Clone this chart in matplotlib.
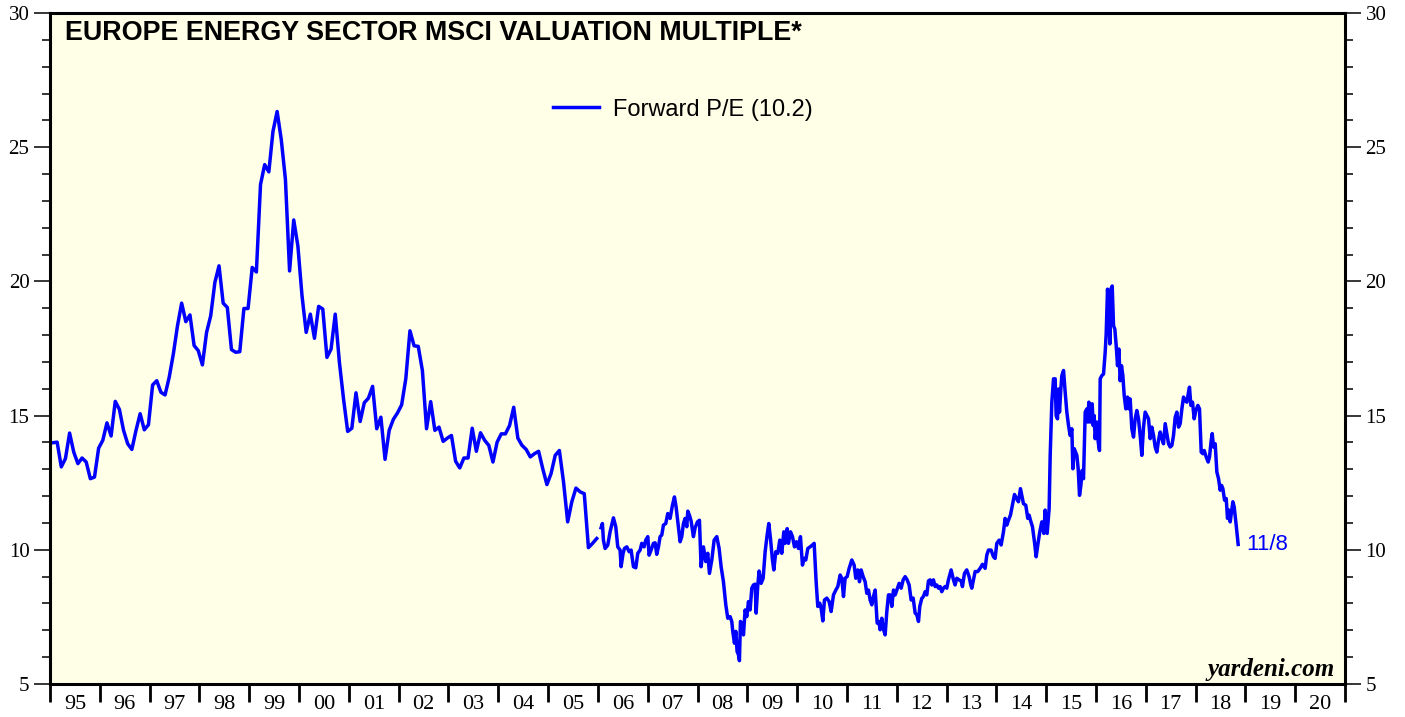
import numpy as np
import matplotlib
matplotlib.use('Agg')
import matplotlib.pyplot as plt

# monthly forward P/E, Jan 1995 .. Dec 2005
monthly_start = 1995.06
monthly_pe = [
    13.99, 14.01, 13.09, 13.40, 14.35, 13.64, 13.21, 13.42, 13.27, 12.65, 12.71, 13.79,
    14.08, 14.73, 14.24, 15.53, 15.23, 14.45, 13.95, 13.74, 14.45, 15.07, 14.47, 14.66,
    16.14, 16.30, 15.87, 15.77, 16.43, 17.30, 18.35, 19.19, 18.50, 18.75, 17.61, 17.42,
    16.89, 18.10, 18.72, 19.96, 20.58, 19.19, 19.03, 17.46, 17.36, 17.38, 18.99, 18.99,
    20.52, 20.35, 23.61, 24.35, 24.08, 25.59, 26.33, 25.28, 23.80, 20.39, 22.29, 21.32,
    19.46, 18.10, 18.78, 17.88, 19.07, 18.97, 17.17, 17.48, 18.78, 16.99, 15.62, 14.41,
    14.53, 15.85, 14.78, 15.48, 15.65, 16.09, 14.51, 14.94, 13.37, 14.45, 14.86, 15.10,
    15.40, 16.37, 18.16, 17.60, 17.58, 16.68, 14.51, 15.52, 14.45, 14.57, 14.04, 14.16,
    14.26, 13.30, 13.05, 13.42, 13.42, 14.53, 13.67, 14.36, 14.08, 13.89, 13.27, 14.01,
    14.32, 14.32, 14.63, 15.31, 14.16, 13.89, 13.74, 13.46, 13.58, 13.67, 13.02, 12.43,
    12.84, 13.52, 13.70, 12.53, 11.04, 11.79, 12.30, 12.16, 12.09, 10.08, 10.24, 10.42,
]

# weekly series from 2006 (decimal years)
weekly_t = [
    2006.064, 2006.091, 2006.111, 2006.145, 2006.198, 2006.245, 2006.312, 2006.359, 2006.399, 2006.446,
    2006.466, 2006.506, 2006.533, 2006.580, 2006.627, 2006.667, 2006.714, 2006.761, 2006.801, 2006.848,
    2006.881, 2006.928, 2006.961, 2007.002, 2007.028, 2007.068, 2007.115, 2007.149, 2007.182, 2007.216,
    2007.249, 2007.283, 2007.316, 2007.363, 2007.403, 2007.450, 2007.497, 2007.537, 2007.570, 2007.604,
    2007.651, 2007.684, 2007.718, 2007.751, 2007.785, 2007.805, 2007.838, 2007.872, 2007.918, 2007.952,
    2007.999, 2008.039, 2008.072, 2008.119, 2008.166, 2008.206, 2008.240, 2008.287, 2008.334, 2008.387,
    2008.434, 2008.474, 2008.521, 2008.568, 2008.608, 2008.655, 2008.688, 2008.708, 2008.742, 2008.769,
    2008.795, 2008.822, 2008.842, 2008.862, 2008.889, 2008.923, 2008.956, 2008.990, 2009.023, 2009.056,
    2009.090, 2009.123, 2009.157,
    2009.177, 2009.211, 2009.237, 2009.277, 2009.318, 2009.358, 2009.398, 2009.431, 2009.465, 2009.505,
    2009.532, 2009.572, 2009.612, 2009.652, 2009.692, 2009.733, 2009.759, 2009.800, 2009.826, 2009.867,
    2009.907, 2009.947, 2009.987, 2010.027, 2010.067, 2010.107, 2010.141, 2010.174, 2010.215, 2010.261,
    2010.308, 2010.342, 2010.382, 2010.415, 2010.455, 2010.482, 2010.516, 2010.549, 2010.596, 2010.643,
    2010.683, 2010.730, 2010.777, 2010.817, 2010.864, 2010.897, 2010.931, 2010.964, 2011.004, 2011.045,
    2011.098, 2011.145, 2011.178, 2011.219, 2011.252, 2011.285, 2011.326, 2011.366, 2011.399, 2011.433,
    2011.466, 2011.500, 2011.533, 2011.567, 2011.607, 2011.640, 2011.667, 2011.700, 2011.727, 2011.767,
    2011.801, 2011.834, 2011.868, 2011.901, 2011.935, 2011.968, 2012.001, 2012.049, 2012.089, 2012.129,
    2012.169, 2012.209, 2012.249, 2012.289, 2012.330, 2012.370, 2012.403, 2012.437, 2012.463,
    2012.503, 2012.536, 2012.570, 2012.603, 2012.637, 2012.670, 2012.704, 2012.737, 2012.771, 2012.804,
    2012.838, 2012.871, 2012.904, 2012.938, 2012.971, 2013.005, 2013.038, 2013.092, 2013.139, 2013.172,
    2013.206, 2013.253, 2013.293, 2013.319, 2013.360, 2013.406, 2013.453, 2013.487, 2013.507, 2013.540,
    2013.574, 2013.627, 2013.674, 2013.721, 2013.775, 2013.808, 2013.842, 2013.895, 2013.942, 2013.975,
    2014.009, 2014.056, 2014.096, 2014.143, 2014.176, 2014.210, 2014.243, 2014.283, 2014.323, 2014.364,
    2014.404, 2014.444, 2014.484, 2014.511, 2014.544, 2014.591, 2014.631, 2014.658, 2014.685, 2014.725,
    2014.765, 2014.799, 2014.832, 2014.872, 2014.913, 2014.953, 2014.980, 2015.020, 2015.060,
    2015.081, 2015.114, 2015.148, 2015.181, 2015.201, 2015.228, 2015.248, 2015.268, 2015.295, 2015.315,
    2015.349, 2015.382, 2015.415, 2015.449, 2015.482, 2015.516, 2015.536, 2015.563, 2015.590, 2015.616,
    2015.643, 2015.670, 2015.697, 2015.723, 2015.750, 2015.784, 2015.817, 2015.837, 2015.857, 2015.884,
    2015.904, 2015.924, 2015.944, 2015.964, 2015.984, 2016.018, 2016.045, 2016.071, 2016.085, 2016.118,
    2016.152, 2016.185, 2016.205, 2016.232, 2016.259, 2016.279, 2016.299, 2016.326, 2016.353, 2016.379,
    2016.406, 2016.433, 2016.460, 2016.486, 2016.513, 2016.540, 2016.567, 2016.600, 2016.634, 2016.660,
    2016.687, 2016.720, 2016.754, 2016.787, 2016.821, 2016.854, 2016.888, 2016.921, 2016.955, 2016.988,
    2017.022, 2017.055, 2017.089, 2017.122, 2017.156, 2017.189, 2017.222, 2017.256, 2017.289, 2017.323,
    2017.356, 2017.390, 2017.423, 2017.457, 2017.490, 2017.524, 2017.557, 2017.591, 2017.624, 2017.658,
    2017.691, 2017.725, 2017.758, 2017.791, 2017.825, 2017.858, 2017.878, 2017.905, 2017.939, 2017.972,
    2018.006, 2018.046, 2018.079, 2018.113, 2018.146, 2018.173, 2018.213, 2018.253, 2018.280, 2018.314,
    2018.334, 2018.360, 2018.394, 2018.427, 2018.461, 2018.494, 2018.521, 2018.548, 2018.581, 2018.615,
    2018.641, 2018.668, 2018.695, 2018.722, 2018.749, 2018.775, 2018.815, 2018.855,
]
weekly_pe = [
    10.82, 10.98, 10.36, 10.05, 10.17, 10.67, 11.19, 10.86, 10.11, 9.99,
    9.37, 9.87, 10.05, 10.11, 9.93, 9.99, 9.37, 9.33, 9.87, 9.99,
    10.24, 10.11, 10.36, 10.49, 9.80, 9.99, 10.24, 10.26, 9.83, 10.11,
    10.49, 10.55, 10.92, 10.98, 11.35, 11.17, 11.66, 11.97, 11.60, 11.04,
    10.30, 10.49, 10.98, 11.17, 10.86, 11.44, 11.29, 11.07, 10.49, 10.82,
    11.04, 11.10, 9.37, 10.11, 9.56, 9.87, 9.12, 9.62, 10.36, 10.49,
    10.05, 9.37, 8.81, 7.95, 7.45, 7.51, 7.33, 6.96, 6.52, 6.96,
    6.21, 6.09, 5.87, 7.33, 7.27, 6.83, 7.76, 7.51, 8.07, 7.76,
    8.57, 8.69, 8.72,
    7.64, 8.69, 9.21, 8.75, 8.94, 9.93, 10.55, 10.98, 10.42, 9.62,
    9.25, 9.93, 9.87, 10.36, 9.87, 10.67, 10.24, 10.79, 10.24, 10.67,
    10.49, 10.11, 10.30, 10.05, 10.49, 9.43, 9.68, 9.62, 10.05, 10.11,
    10.18, 10.24, 8.81, 7.89, 8.01, 7.82, 7.35, 8.13, 8.20, 8.07,
    7.70, 8.32, 8.50, 8.63, 9.06, 8.94, 8.26, 8.94, 9.00, 9.31,
    9.62, 9.43, 8.94, 9.25, 8.81, 9.25, 9.00, 8.81, 8.38, 8.50,
    8.13, 7.95, 8.26, 8.50, 7.27, 7.33, 7.02, 7.45, 7.08, 6.83,
    7.70, 8.32, 8.32, 7.89, 8.50, 8.32, 8.50, 8.75, 8.57, 8.88,
    9.00, 8.88, 8.69, 8.13, 8.20, 7.64, 7.58, 7.33, 7.89,
    8.19, 8.26, 8.44, 8.32, 8.84, 8.88, 8.69, 8.88, 8.63, 8.69,
    8.57, 8.63, 8.44, 8.57, 8.63, 8.57, 8.88, 9.25, 8.88, 8.69,
    8.94, 8.88, 8.84, 8.63, 9.12, 9.25, 9.00, 8.69, 8.57, 8.88,
    9.19, 9.19, 9.31, 9.46, 9.31, 9.80, 9.99, 9.99, 9.74, 9.68,
    10.24, 10.36, 10.18, 10.67, 11.17, 10.92, 11.10, 11.29, 11.66, 12.06,
    11.91, 11.79, 12.28, 12.03, 11.72, 11.66, 11.17, 11.29, 11.10, 10.86,
    10.30, 9.74, 10.18, 10.67, 11.04, 10.61, 11.48, 10.61, 11.54,
    13.52, 15.50, 16.37, 16.37, 15.00, 14.88, 15.99, 15.13, 15.99, 16.49,
    16.68, 15.87, 15.13, 14.63, 14.26, 14.51, 13.02, 13.77, 13.64, 13.52,
    13.02, 12.03, 12.40, 12.96, 12.65, 15.13, 15.25, 14.76, 15.50, 14.76,
    15.25, 15.44, 14.63, 15.00, 14.14, 14.76, 14.01, 13.70, 16.37, 16.49,
    16.55, 17.36, 18.04, 19.71, 18.84, 17.67, 19.71, 19.83, 18.35, 18.22,
    17.61, 16.86, 17.48, 16.30, 16.86, 16.49, 15.75, 15.25, 15.69, 15.25,
    15.62, 14.51, 14.20, 14.88, 15.19, 14.88, 14.26, 13.52, 14.57, 15.13,
    15.00, 14.88, 14.14, 14.57, 14.26, 13.83, 13.64, 14.08, 14.39, 14.14,
    13.95, 14.70, 14.33, 13.95, 13.83, 13.89, 14.26, 14.94, 15.13, 14.57,
    14.70, 15.25, 15.69, 15.56, 15.50, 15.87, 16.06, 15.38, 15.50, 14.88,
    15.19, 15.38, 15.25, 13.64, 13.58, 13.70, 13.46, 13.27, 13.46, 14.08,
    14.33, 13.83, 13.95, 12.90, 12.65, 12.22, 12.40, 12.28, 11.85, 11.91,
    11.17, 11.48, 11.04, 11.41, 11.79, 11.60, 10.92, 10.20,
]

years = list(range(1995, 2021))
year_labels = [f'{y % 100:02d}' for y in years]

blue = '#0000ff'
bg = '#fffee6'

fig = plt.figure(figsize=(14.05, 7.17), dpi=100)
ax = fig.add_axes([50 / 1405, 33 / 717, 1295 / 1405, 671 / 717])
ax.set_facecolor(bg)

monthly_t = monthly_start + np.arange(len(monthly_pe)) / 12
ax.plot(monthly_t, monthly_pe, color=blue, lw=2.5, solid_joinstyle='round')
ax.plot(weekly_t, weekly_pe, color=blue, lw=2.5, solid_joinstyle='round',
        label='Forward P/E (10.2)')

ax.set_xlim(1995, 2021)
ax.set_ylim(5, 30)

# y axis: labels both sides, minor tick every unit
ax.set_yticks(range(5, 31, 5))
ax.set_yticks(range(5, 31), minor=True)
ax.tick_params(axis='y', which='major', direction='out', length=11.3, width=1.1,
               labelsize=15, left=True, right=True, labelleft=True, labelright=True, pad=3.5)
ax.tick_params(axis='y', which='minor', direction='out', length=5.8, width=1.1,
               left=True, right=True)

# x axis: ticks at year bounds, labels centred in each year
ax.set_xticks(list(years) + [2021])
ax.set_xticklabels([])
ax.set_xticks([y + 0.5 for y in years], minor=True)
ax.set_xticklabels(year_labels, minor=True)
ax.tick_params(axis='x', which='major', direction='out', length=13, width=2.0)
ax.tick_params(axis='x', which='minor', length=0, labelsize=16, pad=8)

for t in ax.xaxis.minorTicks:
    t.label1.set_family('Liberation Serif')
for t in ax.yaxis.majorTicks:
    t.label1.set_family('Liberation Serif')
    t.label2.set_family('Liberation Serif')

for s in ax.spines.values():
    s.set_linewidth(2.2)

ax.text(15 / 1295, 0.970, 'EUROPE ENERGY SECTOR MSCI VALUATION MULTIPLE*',
        transform=ax.transAxes, fontsize=19.4, fontweight='bold',
        family='Liberation Sans', va='center', ha='left')

ax.legend(loc='center', bbox_to_anchor=(0.489, 0.856), frameon=False,
          prop={'family': 'Liberation Sans', 'size': 17},
          handlelength=1.95, handletextpad=0.6)

ax.annotate('11/8', xy=(weekly_t[-1], weekly_pe[-1]), xytext=(6, 0),
            textcoords='offset points', color=blue, fontsize=16,
            family='Liberation Sans', va='center', ha='left')

ax.text(0.992, 0.012, 'yardeni.com', transform=ax.transAxes, ha='right',
        va='baseline', fontsize=18, fontweight='bold', fontstyle='italic',
        family='Liberation Serif')

fig.savefig('out.png', dpi=100, facecolor='white')
